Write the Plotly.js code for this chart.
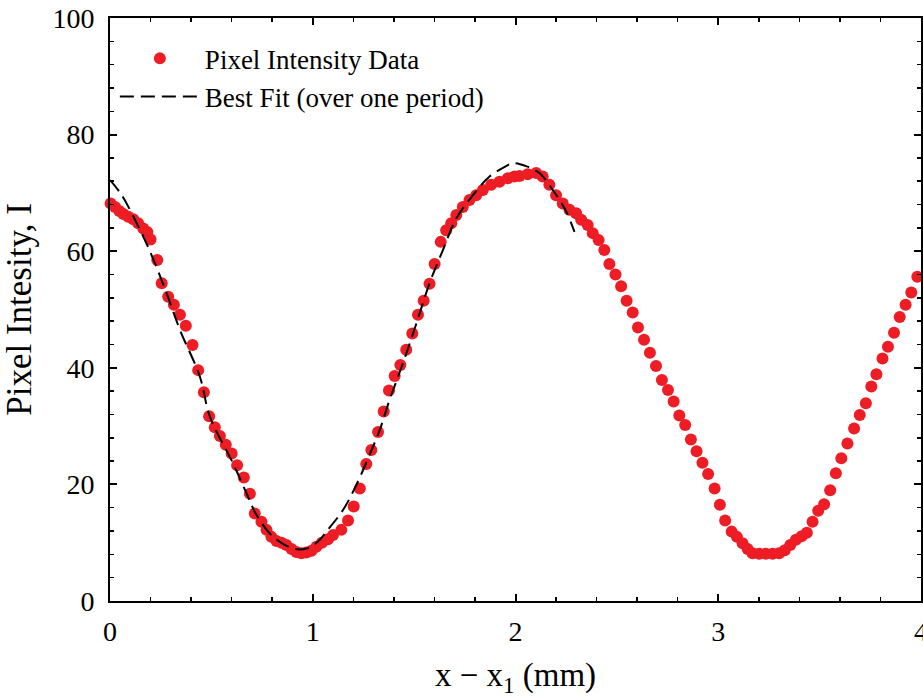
<!DOCTYPE html>
<html>
<head>
<meta charset="utf-8">
<script src="https://cdn.plot.ly/plotly-3.0.1.min.js"></script>
<style>html,body{margin:0;padding:0;overflow:hidden;background:#fff}</style>
</head>
<body>
<div id="chart" style="width:936px;height:698px"></div>
<script>
// Pixel intensity data (x - x1 in mm, intensity)
const dataX = [0.003,0.025,0.046,0.066,0.09,0.115,0.139,0.164,0.184,0.2,0.233,0.255,0.287,0.315,0.345,0.374,0.407,0.435,0.463,0.489,0.517,0.542,0.571,0.6,0.627,0.66,0.69,0.714,0.747,0.772,0.796,0.821,0.846,0.87,0.895,0.919,0.944,0.969,0.994,1.018,1.045,1.075,1.1,1.141,1.174,1.202,1.232,1.264,1.289,1.322,1.35,1.376,1.404,1.432,1.461,1.491,1.519,1.547,1.576,1.601,1.631,1.658,1.683,1.708,1.74,1.773,1.806,1.839,1.88,1.921,1.962,1.995,2.02,2.06,2.102,2.134,2.167,2.2,2.233,2.266,2.299,2.324,2.356,2.381,2.41,2.438,2.463,2.493,2.521,2.548,2.578,2.604,2.634,2.663,2.693,2.722,2.752,2.78,2.808,2.837,2.865,2.893,2.922,2.95,2.982,3.008,3.034,3.066,3.092,3.12,3.145,3.169,3.202,3.235,3.268,3.3,3.328,3.355,3.383,3.411,3.437,3.465,3.493,3.522,3.552,3.58,3.607,3.637,3.67,3.698,3.728,3.755,3.78,3.81,3.837,3.867,3.895,3.924,3.952,3.982];
const dataY = [68.2,67.6,66.9,66.4,65.9,65.5,64.8,63.9,63.3,62.0,58.5,54.5,52.2,50.8,49.1,47.2,43.9,39.6,35.8,31.7,29.8,28.3,26.8,25.3,23.3,21.2,18.4,15.0,13.6,12.2,11.0,10.3,10.0,9.6,8.9,8.4,8.2,8.3,8.6,9.3,10.0,10.6,11.3,12.2,13.8,16.2,19.3,23.5,25.9,29.0,32.5,36.1,38.6,40.5,43.1,45.9,49.1,51.5,54.4,57.8,61.6,63.6,64.8,66.2,67.6,68.8,69.6,70.5,71.4,71.9,72.5,72.8,72.9,73.2,73.4,72.8,71.4,69.6,68.2,67.1,66.5,65.4,64.5,63.1,61.9,60.2,57.8,56.0,54.0,51.5,49.5,46.9,44.8,42.6,40.3,37.9,36.2,34.2,31.8,30.2,27.7,25.7,23.7,21.8,19.3,16.5,13.8,11.9,11.0,9.9,8.9,8.2,8.1,8.1,8.1,8.2,8.7,9.6,10.5,11.1,11.7,13.6,15.5,16.6,19.0,21.9,24.5,27.0,29.6,31.9,33.9,36.8,38.9,41.6,43.6,46.0,48.7,50.8,52.9,55.6];

// Best fit curve (over one period)
const fitX = [0,0.058,0.164,0.222,0.279,0.345,0.443,0.493,0.607,0.673,0.722,0.805,0.903,0.969,1.026,1.067,1.149,1.215,1.273,1.33,1.379,1.445,1.511,1.576,1.642,1.708,1.79,1.872,1.954,1.987,2.052,2.118,2.184,2.25,2.291];
const fitY = [72.2,69.6,62.5,57.9,52.8,46.5,38.5,31.6,23.6,18.5,14.8,11.0,9.0,9.0,10.2,11.9,15.6,19.9,24.5,29.3,34.5,40.8,47.6,54.5,60.2,65.6,69.6,72.8,74.6,75.1,74.6,73.4,70.5,66.8,63.3];

const xTickVals = [0,1,2,3,4];
const xTickText = ['0','1','2','3','4'];
const yTickVals = [0,20,40,60,80,100];
const yTickText = ['0','20','40','60','80','100'];

const font = 'Liberation Serif, Times New Roman, serif';

const traces = [
  {
    x: dataX, y: dataY, type: 'scatter', mode: 'markers',
    name: 'Pixel Intensity Data',
    marker: {color: '#ee1c25', size: 12},
    cliponaxis: false
  },
  {
    x: fitX, y: fitY, type: 'scatter', mode: 'lines',
    name: 'Best Fit (over one period)',
    line: {color: '#000', width: 2, dash: '14px,7px', shape: 'spline'}
  }
];

const axisCommon = {
  showline: true, linecolor: '#000', linewidth: 2, mirror: 'ticks',
  ticks: 'inside', ticklen: 7, tickwidth: 2, tickcolor: '#000',
  showgrid: false, zeroline: false,
  tickfont: {family: font, size: 28, color: '#000'},
  minor: {ticks: 'inside', ticklen: 4, tickwidth: 1.5, tickcolor: '#000', showgrid: false}
};

const layout = {
  width: 936, height: 698,
  margin: {l: 110, r: 15, t: 18, b: 97},
  paper_bgcolor: '#fff', plot_bgcolor: '#fff',
  showlegend: true,
  legend: {
    x: 0.006, y: 0.972, xanchor: 'left', yanchor: 'top',
    bgcolor: 'rgba(0,0,0,0)', borderwidth: 0,
    font: {family: font, size: 27, color: '#000'},
    itemwidth: 80
  },
  xaxis: Object.assign({}, axisCommon, {
    range: [0, 4], tickvals: xTickVals, ticktext: xTickText,
    ticklabelstandoff: 4,
    minor: Object.assign({}, axisCommon.minor, {dtick: 0.2}),
    title: {text: 'x \u2212 x<sub>1</sub> (mm)', font: {family: font, size: 33, color: '#000'}, standoff: 19}
  }),
  yaxis: Object.assign({}, axisCommon, {
    range: [0, 100], tickvals: yTickVals, ticktext: yTickText,
    ticklabelstandoff: 8,
    minor: Object.assign({}, axisCommon.minor, {dtick: 4}),
    title: {text: 'Pixel Intesity, I', font: {family: font, size: 35, color: '#000'}, standoff: 11}
  })
};

Plotly.newPlot('chart', traces, layout, {staticPlot: true, displayModeBar: false});
</script>
</body>
</html>
